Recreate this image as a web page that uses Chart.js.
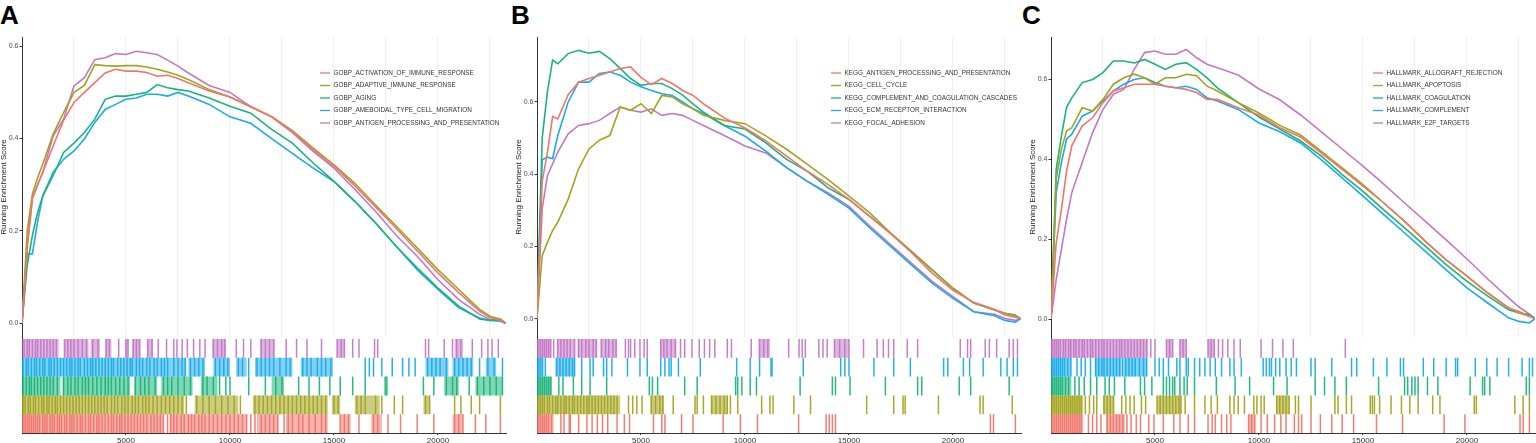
<!DOCTYPE html>
<html><head><meta charset="utf-8">
<script src="https://cdn.jsdelivr.net/npm/chart.js@4.4.0/dist/chart.umd.min.js"></script>
<style>
html,body{margin:0;padding:0;background:#fff;width:1536px;height:443px;overflow:hidden;position:relative;}
.lab{position:absolute;top:2px;font:bold 26px/26px "Liberation Sans",Arial,sans-serif;color:#000;}
canvas{position:absolute;}
</style></head><body>
<div class="lab" style="left:0px">A</div>
<div class="lab" style="left:511px">B</div>
<div class="lab" style="left:1022px">C</div>
<script>
// shared rank sampling (x) for running enrichment score curves
const ranks = [0,250,500,750,1000,1500,2000,2500,3000,3500,4000,4500,5000,5500,6000,6500,7000,7500,8000,9000,10000,11000,12000,13000,14000,15000,16000,17000,18000,19000,20000,21000,22000,22500,23000,23250];
const gridRanks = [2500,5000,7500,10000,12500,15000,17500,20000,22500];
const xTickLabels = [5000,10000,15000,20000];
const yTicksA = [0,0.2,0.4,0.6];
const yTicksB = [0,0.2,0.4,0.6];
const yTicksC = [0,0.2,0.4,0.6];

// Panel A
const labelsA = ["GOBP_ACTIVATION_OF_IMMUNE_RESPONSE","GOBP_ADAPTIVE_IMMUNE_RESPONSE","GOBP_AGING","GOBP_AMEBOIDAL_TYPE_CELL_MIGRATION","GOBP_ANTIGEN_PROCESSING_AND_PRESENTATION"];
const esA1 = [0,0.16,0.27,0.30,0.327,0.384,0.44,0.478,0.50,0.521,0.542,0.55,0.546,0.546,0.543,0.535,0.537,0.53,0.521,0.503,0.49,0.469,0.447,0.415,0.376,0.34,0.298,0.252,0.205,0.157,0.109,0.066,0.026,0.012,0.006,0];
const esA2 = [0,0.20,0.28,0.315,0.345,0.41,0.456,0.50,0.515,0.56,0.558,0.557,0.558,0.558,0.555,0.55,0.544,0.537,0.528,0.506,0.49,0.469,0.448,0.417,0.379,0.343,0.303,0.256,0.21,0.163,0.116,0.073,0.03,0.015,0.009,0];
const esA3 = [0,0.125,0.19,0.24,0.276,0.32,0.37,0.39,0.413,0.442,0.485,0.492,0.492,0.496,0.50,0.517,0.51,0.506,0.503,0.488,0.47,0.455,0.42,0.39,0.347,0.307,0.264,0.217,0.166,0.12,0.076,0.037,0.009,0.006,0.008,0];
const esA4 = [0,0.15,0.15,0.22,0.276,0.327,0.355,0.373,0.399,0.435,0.463,0.474,0.485,0.488,0.496,0.496,0.492,0.50,0.492,0.474,0.447,0.433,0.40,0.368,0.336,0.307,0.264,0.217,0.166,0.116,0.073,0.033,0.011,0.006,0.004,0];
const esA5 = [0,0.17,0.27,0.30,0.327,0.406,0.442,0.514,0.532,0.571,0.575,0.584,0.582,0.589,0.586,0.582,0.57,0.557,0.542,0.515,0.50,0.469,0.447,0.413,0.372,0.336,0.29,0.242,0.19,0.145,0.094,0.051,0.019,0.008,0.005,0];

const hitsA1 = [50,150,250,350,450,550,650,750,850,1000,1100,1200,1350,1450,1550,1700,1800,1900,2050,2150,2300,2400,2500,2650,2800,2900,3050,3200,3300,3450,3600,3700,3850,4000,4150,4300,4400,4550,4700,4800,4950,5100,5250,5400,5550,5700,5850,6000,6200,6350,6500,6650,6800,7000,7150,7300,7450,7650,7800,8000,8150,8300,8500,8650,8800,9000,9200,9400,9600,9800,10000,10200,10400,10600,10800,11000,11200,11500,11700,11900,12100,12300,12600,12800,13000,13300,13500,13800,14100,14400,14600,15300,15500,15700,16200,16900,17100,17600,18200,19000,19800,20800,21000,21200,21800,22300,23000];
const blocksA1 = [[0,6800],[7100,10800],[11300,12300],[12700,14700],[15300,15800],[16800,17300],[20700,21200]];
const hitsA2 = [50,150,300,400,550,650,800,950,1050,1200,1300,1450,1600,1700,1850,2000,2150,2300,2450,2600,2750,2900,3050,3200,3350,3500,3650,3800,3950,4100,4300,4450,4600,4800,4950,5100,5300,5450,5600,5800,5950,6100,6300,6500,6700,6900,7100,7300,7500,7700,7900,8400,8700,9000,9300,9600,9900,10200,10500,11200,11400,11600,11800,12000,12200,12400,12600,12800,13000,13200,13400,13600,13800,14000,14200,14400,14600,15000,15200,16100,16300,16500,17000,17300,17900,18300,19400,19600,20800,21100,21600,22000,23000];
const blocksA2 = [[0,7800],[8300,10400],[11100,14700],[14900,15300],[16000,17200],[19300,19600]];
const hitsA3 = [50,200,350,450,600,750,900,1050,1200,1350,1500,1700,2000,2200,2350,2550,2700,2900,3050,3200,3400,3600,3800,4000,4150,4300,4500,4700,4900,5100,5450,5700,5900,6100,6400,6800,7000,7200,7500,7800,8100,8700,8900,9200,9500,9800,10000,10900,11700,12200,12500,13300,13800,14300,14800,15300,15900,16500,17500,19300,19800,20400,20700,20900,21500,21900,22200,22500,22800,23100];
const blocksA3 = [[0,1850],[1950,5200],[5400,6500],[6700,8200],[8600,9400],[12000,12600],[17400,17600],[20300,21000],[21800,23100]];
const hitsA4 = [50,200,300,450,600,700,850,1000,1100,1300,1400,1550,1700,1850,2000,2150,2300,2400,2550,2700,2800,3000,3150,3300,3400,3550,3700,3850,4000,4150,4300,4400,4600,4750,4900,5050,5200,5300,5500,5650,5800,6000,6150,6350,6500,6700,6850,7000,7300,7500,7700,7850,8100,8300,8500,8700,9300,9500,9700,9900,10400,10600,10900,11300,11500,11700,11900,12100,12400,12700,12900,13500,13700,13900,14200,14400,14600,14850,16500,16700,16900,17300,17800,18300,18600,18900,19500,19700,19900,20100,20400,20800,21000,21200,21400,21600,22000,22400,22700,23100];
const blocksA4 = [[0,7900],[8000,8800],[9200,10000],[10300,10800],[11200,13000],[13400,14950],[19400,20500],[20700,21700],[22300,22800]];
const hitsA5 = [100,250,350,500,650,750,900,1050,1200,1350,1500,1650,2050,2200,2350,2500,2700,2900,3100,3400,3650,4050,4200,4650,5000,5100,5350,5500,5650,6050,6250,6550,6950,7300,7450,7700,7950,8250,8550,8800,9200,9400,9600,9750,10300,10650,11000,11500,11700,11900,12100,12700,13200,13700,14400,15150,15350,15500,15900,16200,16950,17100,19400,19550,20300,20700,20900,21100,21650,22100,22400,22600,22900];
const blocksA5 = [[0,1760],[2000,3200],[3300,3750],[4000,4300],[4950,5100],[5300,5700],[6000,6300],[9150,9800],[11450,12150],[15150,15500],[20800,21200]];

// Panel B
const labelsB = ["KEGG_ANTIGEN_PROCESSING_AND_PRESENTATION","KEGG_CELL_CYCLE","KEGG_COMPLEMENT_AND_COAGULATION_CASCADES","KEGG_ECM_RECEPTOR_INTERACTION","KEGG_FOCAL_ADHESION"];
const esB1 = [0,0.38,0.46,0.56,0.553,0.62,0.655,0.665,0.674,0.683,0.693,0.697,0.668,0.648,0.665,0.651,0.632,0.618,0.595,0.556,0.528,0.492,0.45,0.408,0.371,0.33,0.283,0.235,0.183,0.126,0.078,0.045,0.025,0.01,0.004,0];
const esB2 = [0,0.174,0.211,0.244,0.267,0.331,0.415,0.47,0.494,0.507,0.586,0.577,0.595,0.568,0.618,0.614,0.595,0.581,0.563,0.549,0.54,0.506,0.469,0.427,0.385,0.339,0.293,0.237,0.186,0.135,0.084,0.043,0.024,0.015,0.008,0];
const esB3 = [0,0.50,0.628,0.716,0.706,0.734,0.743,0.735,0.74,0.72,0.693,0.665,0.646,0.651,0.651,0.637,0.619,0.595,0.572,0.535,0.525,0.487,0.441,0.408,0.362,0.33,0.283,0.237,0.186,0.135,0.084,0.043,0.024,0.015,0.01,0];
const esB4 = [0,0.44,0.447,0.443,0.507,0.60,0.655,0.655,0.679,0.683,0.674,0.655,0.642,0.632,0.623,0.618,0.60,0.581,0.568,0.535,0.505,0.464,0.418,0.38,0.344,0.306,0.251,0.20,0.149,0.098,0.056,0.019,0.008,-0.005,-0.01,0];
const esB5 = [0,0.304,0.396,0.429,0.461,0.512,0.535,0.54,0.549,0.568,0.586,0.577,0.572,0.581,0.563,0.568,0.563,0.549,0.535,0.507,0.478,0.459,0.418,0.38,0.348,0.311,0.256,0.205,0.154,0.103,0.061,0.019,0.012,0,-0.005,0];

const hitsB1 = [50,150,250,350,450,550,700,1150,1300,1550,1600,2000,2400,2650,2900,3150,3400,3850,4200,4450,5600,6000,6150,6950,7500,8950,9780,10600,12580,13900,14050,14200,14350,21800,21950,23000];
const blocksB1 = [[0,800]];
const hitsB2 = [50,150,250,350,500,600,750,900,1000,1150,1300,1400,1550,1700,1800,1950,2100,2250,2400,2500,2650,2800,2950,3100,3250,3400,3550,3700,3850,4400,4600,4800,5050,5500,5700,5900,6050,6550,7600,7700,8000,8400,8600,8800,9000,9150,9300,9650,10800,11200,11350,12350,13150,15850,17150,17600,17700,19300,21300,21450,22850];
const blocksB2 = [[0,4000],[5450,6100],[8350,9150]];
const hitsB3 = [50,150,250,350,450,550,650,1050,1250,1750,2150,2550,3350,5400,5550,5800,7100,7700,9550,9650,9850,10250,10550,12650,14200,14350,15050,16750,18300,18500,20300,20850,22700];
const blocksB3 = [[0,720]];
const hitsB4 = [50,150,250,400,950,1100,1250,1400,1550,1700,1800,2150,2550,2700,3200,3350,3600,4350,4950,5300,5950,6150,6350,6450,6800,7850,9600,10250,10700,11250,11300,12800,14600,14800,15000,16200,17150,17950,19550,19750,20500,20800,21450,22300,22600,22900,23100];
const blocksB4 = [[0,320],[880,1840]];
const hitsB5 = [50,150,250,350,450,550,650,800,1000,1150,1300,1450,1600,1800,2000,2150,2350,2500,2700,2850,3100,3300,3450,3650,3800,4250,4400,4500,4700,4950,5150,5300,5950,6100,6250,6450,6650,6900,7100,7450,7800,8050,8300,8550,9150,9350,10300,10700,10900,11100,12100,12600,12750,12900,13550,13750,13950,14300,14550,14800,15000,15700,16350,16650,16900,17150,17800,18300,20350,20700,20850,21550,21750,22100,22700,22900,23100];
const blocksB5 = [[0,700],[950,1850],[1950,2900],[3050,3850],[5950,6700],[10650,11200],[14300,15000]];

// Panel C
const labelsC = ["HALLMARK_ALLOGRAFT_REJECTION","HALLMARK_APOPTOSIS","HALLMARK_COAGULATION","HALLMARK_COMPLEMENT","HALLMARK_E2F_TARGETS"];
const esC1 = [0,0.19,0.274,0.37,0.433,0.483,0.503,0.541,0.57,0.578,0.587,0.587,0.587,0.582,0.578,0.574,0.566,0.549,0.549,0.528,0.51,0.478,0.455,0.415,0.374,0.332,0.29,0.244,0.194,0.148,0.107,0.065,0.028,0.015,0.007,0.002];
const esC2 = [0,0.35,0.424,0.47,0.478,0.528,0.52,0.549,0.587,0.603,0.612,0.603,0.587,0.603,0.603,0.612,0.608,0.582,0.57,0.541,0.515,0.484,0.46,0.419,0.378,0.336,0.29,0.244,0.194,0.148,0.107,0.065,0.0275,0.019,0.007,0.002];
const esC3 = [0,0.374,0.457,0.53,0.553,0.591,0.599,0.616,0.645,0.645,0.64,0.649,0.637,0.624,0.637,0.641,0.624,0.603,0.578,0.541,0.505,0.475,0.445,0.407,0.361,0.319,0.273,0.228,0.182,0.136,0.094,0.057,0.023,0.015,0.011,0.002];
const esC4 = [0,0.316,0.391,0.45,0.462,0.507,0.52,0.545,0.57,0.587,0.599,0.603,0.591,0.582,0.578,0.582,0.574,0.553,0.545,0.524,0.49,0.468,0.44,0.398,0.353,0.307,0.261,0.215,0.169,0.123,0.078,0.04,0.003,-0.006,-0.01,0];
const esC5 = [0,0.099,0.174,0.25,0.316,0.391,0.466,0.524,0.562,0.574,0.624,0.666,0.67,0.662,0.662,0.674,0.653,0.637,0.628,0.61,0.575,0.548,0.51,0.468,0.425,0.382,0.337,0.29,0.244,0.198,0.15,0.10,0.053,0.03,0.012,0.002];

const hitsC1 = [50,150,250,350,450,550,650,750,850,950,1050,1150,1250,1350,1450,1800,2000,2200,2400,2700,2850,3000,3150,3300,3450,3650,3850,4100,4300,4700,4950,5400,5900,6200,6600,6900,7550,7750,7900,8200,8450,8650,9500,9650,9800,10100,10400,10750,11050,11300,11700,11900,12050,12500,12950,13500,14000,14550,15650,16900,18900,19900,22550,22700,23000];
const blocksC1 = [[0,1550],[2650,3550],[9500,9800]];
const hitsC2 = [50,150,250,350,450,550,650,750,850,950,1050,1150,1250,1350,1450,1650,1850,2050,2200,2550,2700,2850,3000,3400,3600,3800,4000,4350,4550,5100,5250,5400,5550,5700,5850,6000,6150,6250,6450,6900,7400,7700,8000,8600,8800,9000,9300,9750,9900,10100,10250,10850,11000,11150,11300,11450,11750,11900,12500,13650,13800,14200,14450,15350,15450,15550,15800,16350,16850,17250,17650,18350,18700,20350,20450,22300,22700,23000];
const blocksC2 = [[0,1550],[2500,3050],[5100,6250],[10850,11450]];
const hitsC3 = [50,150,250,350,450,550,700,850,1150,1350,1600,1900,2200,2600,2800,3050,3550,4300,4500,4850,5400,5550,5700,5850,5950,6200,6400,6550,6900,7950,8850,9550,10700,11350,12700,13150,13650,14200,15750,17000,17150,17350,17500,17650,18100,18600,20150,20750,20850,21100,22850,23000];
const blocksC3 = [[0,980]];
const hitsC4 = [50,150,250,350,450,550,650,800,950,1250,1450,1650,1900,2150,2300,2450,2550,2700,2850,3000,3150,3300,3450,3600,3750,3900,4050,4250,4450,4600,5000,5200,5400,5650,6050,6200,6500,6600,6900,7150,7400,7650,7900,8200,8600,8800,9150,10200,10350,10500,10600,10800,11000,11300,11550,11800,12500,12700,13500,14450,14700,15500,16150,16800,16950,17900,18400,19000,19450,19550,20400,20950,21450,22000,22650,23000,23150];
const blocksC4 = [[0,980],[2100,3400],[3500,4600]];
const hitsC5 = [50,150,250,350,450,600,700,850,950,1100,1200,1350,1500,1600,1750,1900,2000,2150,2300,2450,2550,2700,2850,3000,3150,3300,3400,3550,3700,3850,4000,4150,4300,4450,4600,4800,5000,5550,5700,5850,6200,6350,6500,7550,7700,7850,8050,8250,8500,8800,9100,10100,10650,11150,11650,14150];
const blocksC5 = [[0,4650],[5550,5850],[6200,6500],[7550,7850]];

const colors = ['#F2756B','#A3A41E','#1AB47A','#1AABEB','#C278C6'];
const FONT = '"Liberation Sans", Arial, sans-serif';
Chart.defaults.font.family = FONT;

const panels = [
  {axisX:22, right:506, yMin:-0.03, yMax:0.62, yTicks:yTicksA, labels:labelsA, es:[esA1,esA2,esA3,esA4,esA5], hits:[hitsA1,hitsA2,hitsA3,hitsA4,hitsA5], blocks:[blocksA1,blocksA2,blocksA3,blocksA4,blocksA5], legendX:320},
  {axisX:537, right:1021, yMin:-0.051, yMax:0.78, yTicks:yTicksB, labels:labelsB, es:[esB1,esB2,esB3,esB4,esB5], hits:[hitsB1,hitsB2,hitsB3,hitsB4,hitsB5], blocks:[blocksB1,blocksB2,blocksB3,blocksB4,blocksB5], legendX:831},
  {axisX:1051, right:1535, yMin:-0.045, yMax:0.705, yTicks:yTicksC, labels:labelsC, es:[esC1,esC2,esC3,esC4,esC5], hits:[hitsC1,hitsC2,hitsC3,hitsC4,hitsC5], blocks:[blocksC1,blocksC2,blocksC3,blocksC4,blocksC5], legendX:1373}
];
const X_MAX = 23270;
const AXIS_W = 23;

function rgba(hex,a){const n=parseInt(hex.slice(1),16);return `rgba(${n>>16&255},${n>>8&255},${n&255},${a})`;}
function mkCanvas(left,top,w,h){const c=document.createElement('canvas');c.width=w;c.height=h;c.style.left=left+'px';c.style.top=top+'px';c.style.width=w+'px';c.style.height=h+'px';document.body.appendChild(c);return c;}
function noPadFitY(w){return s=>{s.width=w;s.paddingTop=0;s.paddingBottom=0;};}
function noPadFitX(h){return s=>{s.height=h;s.paddingLeft=0;s.paddingRight=0;};}

const legendPlugin = {
  id:'gseaLegend',
  afterDatasetsDraw(chart,args,opts){
    const ctx=chart.ctx; ctx.save();
    ctx.font='6.4px '+FONT; ctx.textBaseline='middle'; ctx.textAlign='left';
    opts.labels.forEach((lab,i)=>{
      const y=opts.y+i*12.5;
      ctx.strokeStyle=opts.colors[i]; ctx.lineWidth=1.3;
      ctx.beginPath(); ctx.moveTo(opts.x,y); ctx.lineTo(opts.x+10,y); ctx.stroke();
      ctx.fillStyle='#333'; ctx.fillText(lab,opts.x+13.5,y);
    });
    ctx.restore();
  }
};

panels.forEach(p=>{
  const left = p.axisX - AXIS_W;
  const w = p.right - left + 1;
  // running enrichment score chart
  const c1 = mkCanvas(left,30,w,307);
  new Chart(c1,{
    type:'scatter',
    data:{datasets:p.es.map((vals,i)=>({label:p.labels[i],data:ranks.map((r,k)=>({x:r,y:vals[k]})),showLine:true,pointRadius:0,borderWidth:1.6,borderColor:colors[i],fill:false}))},
    options:{
      responsive:false,animation:false,
      layout:{autoPadding:false,padding:{top:7,right:1,left:0,bottom:0}},
      plugins:{legend:{display:false},tooltip:{enabled:false},gseaLegend:{labels:p.labels,colors:colors,x:p.legendX-left,y:73-30}},
      scales:{
        x:{type:'linear',min:0,max:X_MAX,
           afterBuildTicks:s=>{s.ticks=gridRanks.map(v=>({value:v}));},
           afterFit:noPadFitX(0),
           grid:{color:'#ebebeb',lineWidth:0.8,drawTicks:false},
           border:{display:false},ticks:{display:false}},
        y:{min:p.yMin,max:p.yMax,
           afterBuildTicks:s=>{s.ticks=p.yTicks.map(v=>({value:v}));},
           afterFit:noPadFitY(AXIS_W),
           grid:{drawOnChartArea:false,drawTicks:true,tickLength:2.5,tickColor:'#333',lineWidth:1},
           border:{display:true,color:'#333',width:1},
           ticks:{padding:1,color:'#4d4d4d',font:{size:7},callback:v=>Number(v).toFixed(1)},
           title:{display:true,text:'Running Enrichment Score',color:'#222',font:{size:8},padding:0}}
      }
    },
    plugins:[legendPlugin]
  });
  // rug (gene hit) chart
  const c2 = mkCanvas(left,337,w,106);
  const ds=[];
  p.blocks.forEach((bl,i)=>{
    const row=i+0.5, d=[];
    bl.forEach(b=>{d.push({x:b[0],y:row},{x:b[1],y:row},{x:b[1],y:null});});
    ds.push({type:'line',data:d,showLine:true,spanGaps:false,pointRadius:0,borderWidth:18.8,borderCapStyle:'butt',borderColor:rgba(colors[i],0.55),fill:false});
  });
  p.hits.forEach((h,i)=>{
    const row=i+0.5;
    ds.push({type:'scatter',data:h.map(v=>({x:v,y:row})),pointStyle:'line',rotation:90,pointRadius:9.4,pointHoverRadius:9.4,pointBorderWidth:1.5,pointBorderColor:rgba(colors[i],0.95),pointBackgroundColor:rgba(colors[i],0.95)});
  });
  new Chart(c2,{
    type:'scatter',
    data:{datasets:ds},
    options:{
      responsive:false,animation:false,
      layout:{autoPadding:false,padding:{top:0,right:1,left:0,bottom:0}},
      plugins:{legend:{display:false},tooltip:{enabled:false}},
      scales:{
        x:{type:'linear',min:0,max:X_MAX,
           afterBuildTicks:s=>{s.ticks=xTickLabels.map(v=>({value:v}));},
           afterFit:noPadFitX(10),
           grid:{drawOnChartArea:false,drawTicks:true,tickLength:2,tickColor:'#333',lineWidth:1},
           border:{display:true,color:'#333',width:1},
           ticks:{padding:1,color:'#333',font:{size:8},callback:v=>String(v),maxRotation:0}},
        y:{min:0,max:5*96/94,
           afterFit:noPadFitY(AXIS_W),
           grid:{display:false},
           border:{display:true,color:'#333',width:1},
           ticks:{display:false}}
      }
    }
  });
});
</script>
</body></html>
